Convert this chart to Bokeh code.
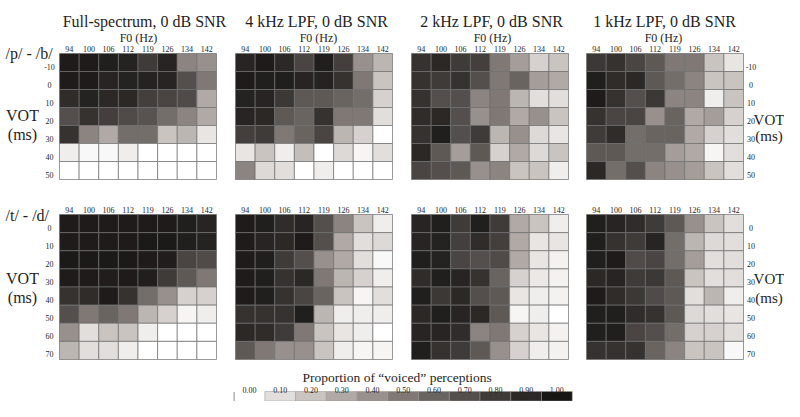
import numpy as np
from bokeh.plotting import figure
from bokeh.models import Range1d, ColumnDataSource, LinearColorMapper
from bokeh.embed import file_html
from bokeh.resources import INLINE
from bokeh.core.properties import value

# ---------------- data ----------------
F0 = ["94", "100", "106", "112", "119", "126", "134", "142"]
VOT_PB = ["-10", "0", "10", "20", "30", "40", "50"]
VOT_TD = ["0", "10", "20", "30", "40", "50", "60", "70"]
TITLES = ["Full-spectrum, 0 dB SNR", "4 kHz LPF, 0 dB SNR",
          "2 kHz LPF, 0 dB SNR", "1 kHz LPF, 0 dB SNR"]
ROW_LABELS = ["/p/ - /b/", "/t/ - /d/"]

# proportion of "voiced" responses, rows = VOT, cols = F0
pb_full = [
    [0.97, 0.97, 0.95, 0.93, 0.80, 0.92, 0.45, 0.40],
    [0.97, 0.97, 0.92, 0.93, 0.93, 0.92, 0.70, 0.50],
    [0.88, 0.93, 0.90, 0.90, 0.78, 0.75, 0.72, 0.30],
    [0.70, 0.85, 0.78, 0.72, 0.68, 0.55, 0.45, 0.30],
    [0.85, 0.45, 0.30, 0.55, 0.55, 0.20, 0.25, 0.08],
    [0.05, 0.02, 0.02, 0.05, 0.00, 0.00, 0.00, 0.00],
    [0.00, 0.00, 0.00, 0.00, 0.00, 0.00, 0.00, 0.00],
]
pb_4k = [
    [0.92, 0.97, 0.90, 0.75, 0.95, 0.78, 0.40, 0.25],
    [0.97, 0.95, 0.95, 0.92, 0.93, 0.85, 0.50, 0.20],
    [0.93, 0.92, 0.82, 0.65, 0.65, 0.60, 0.55, 0.15],
    [0.92, 0.90, 0.65, 0.60, 0.85, 0.50, 0.50, 0.10],
    [0.78, 0.80, 0.50, 0.60, 0.75, 0.25, 0.15, 0.00],
    [0.08, 0.20, 0.05, 0.22, 0.00, 0.12, 0.03, 0.10],
    [0.45, 0.12, 0.10, 0.00, 0.05, 0.00, 0.00, 0.00],
]
pb_2k = [
    [0.85, 0.90, 0.80, 0.78, 0.50, 0.35, 0.15, 0.20],
    [0.85, 0.80, 0.85, 0.70, 0.50, 0.60, 0.35, 0.30],
    [0.85, 0.70, 0.70, 0.45, 0.50, 0.25, 0.10, 0.10],
    [0.88, 0.90, 0.70, 0.40, 0.50, 0.30, 0.40, 0.20],
    [0.85, 0.95, 0.70, 0.80, 0.25, 0.40, 0.12, 0.08],
    [0.90, 0.65, 0.35, 0.65, 0.15, 0.30, 0.12, 0.20],
    [0.75, 0.70, 0.65, 0.40, 0.45, 0.20, 0.20, 0.05],
]
pb_1k = [
    [0.82, 0.85, 0.75, 0.65, 0.50, 0.50, 0.20, 0.08],
    [0.95, 0.88, 0.90, 0.65, 0.55, 0.45, 0.20, 0.20],
    [0.97, 0.85, 0.70, 0.82, 0.45, 0.45, 0.05, 0.20],
    [0.85, 0.75, 0.75, 0.40, 0.60, 0.30, 0.35, 0.15],
    [0.80, 0.88, 0.55, 0.60, 0.60, 0.30, 0.15, 0.10],
    [0.65, 0.65, 0.55, 0.55, 0.35, 0.30, 0.03, 0.10],
    [0.90, 0.55, 0.70, 0.45, 0.40, 0.35, 0.20, 0.10],
]
td_full = [
    [0.97, 0.97, 0.97, 0.97, 0.97, 0.97, 0.95, 0.92],
    [0.97, 0.97, 0.97, 0.97, 0.98, 0.98, 0.95, 0.93],
    [0.98, 0.98, 0.98, 0.98, 0.97, 0.96, 0.75, 0.72],
    [0.97, 0.97, 0.96, 0.97, 0.95, 0.80, 0.65, 0.50],
    [0.85, 0.88, 0.97, 0.85, 0.55, 0.40, 0.15, 0.15],
    [0.70, 0.50, 0.60, 0.50, 0.25, 0.15, 0.03, 0.05],
    [0.40, 0.10, 0.20, 0.20, 0.05, 0.00, 0.00, 0.00],
    [0.25, 0.10, 0.10, 0.05, 0.00, 0.00, 0.00, 0.00],
]
td_4k = [
    [0.97, 0.95, 0.88, 0.92, 0.70, 0.45, 0.20, 0.05],
    [0.97, 0.92, 0.90, 0.97, 0.70, 0.30, 0.10, 0.12],
    [0.97, 0.95, 0.80, 0.70, 0.40, 0.30, 0.10, 0.02],
    [0.97, 0.95, 0.85, 0.90, 0.50, 0.25, 0.15, 0.05],
    [0.97, 0.95, 0.85, 0.75, 0.60, 0.20, 0.03, 0.10],
    [0.85, 0.85, 0.85, 0.95, 0.25, 0.05, 0.05, 0.05],
    [0.90, 0.88, 0.80, 0.50, 0.20, 0.08, 0.05, 0.00],
    [0.65, 0.50, 0.40, 0.40, 0.20, 0.05, 0.03, 0.03],
]
td_2k = [
    [0.92, 0.95, 0.80, 0.95, 0.80, 0.30, 0.20, 0.05],
    [0.92, 0.93, 0.78, 0.88, 0.78, 0.30, 0.08, 0.08],
    [0.95, 0.93, 0.75, 0.70, 0.72, 0.30, 0.08, 0.04],
    [0.88, 0.95, 0.92, 0.85, 0.60, 0.15, 0.07, 0.04],
    [0.95, 0.82, 0.90, 0.70, 0.65, 0.08, 0.05, 0.04],
    [0.90, 0.95, 0.92, 0.90, 0.65, 0.03, 0.05, 0.00],
    [0.92, 0.92, 0.88, 0.45, 0.50, 0.15, 0.08, 0.04],
    [0.95, 0.85, 0.80, 0.65, 0.40, 0.15, 0.05, 0.04],
]
td_1k = [
    [0.95, 0.92, 0.88, 0.80, 0.65, 0.40, 0.20, 0.10],
    [0.95, 0.85, 0.80, 0.92, 0.55, 0.25, 0.12, 0.10],
    [0.95, 0.97, 0.72, 0.75, 0.55, 0.35, 0.10, 0.10],
    [0.90, 0.92, 0.80, 0.82, 0.65, 0.20, 0.10, 0.10],
    [0.97, 0.88, 0.82, 0.72, 0.65, 0.10, 0.25, 0.05],
    [0.95, 0.95, 0.88, 0.85, 0.65, 0.12, 0.10, 0.08],
    [0.95, 0.95, 0.75, 0.70, 0.55, 0.15, 0.15, 0.10],
    [0.85, 0.85, 0.85, 0.60, 0.45, 0.20, 0.20, 0.02],
]

LEVELS = [0.0, 0.1, 0.2, 0.3, 0.4, 0.5, 0.6, 0.7, 0.8, 0.9, 1.0]
LEVEL_LABELS = ["0.00", "0.10", "0.20", "0.30", "0.40", "0.50",
                "0.60", "0.70", "0.80", "0.90", "1.00"]
CB_TITLE = "Proportion of \u201cvoiced\u201d perceptions"

# ---------------- style / layout ----------------
W, H = 784, 401
FONT = value("Liberation Serif")
TXT = "#1e1e1e"
GRID_LINE = "#6f6f6f"

# warm grey palette (white -> near-black)
anchors_v = [0.0, 0.1, 0.3, 0.5, 0.7, 0.9, 1.0]
anchors_c = [(255, 255, 255), (226, 222, 219), (176, 169, 165), (127, 120, 116),
             (84, 79, 76), (43, 40, 38), (24, 22, 21)]
vv = np.linspace(0, 1, 201)
palette = []
for t in vv:
    rgb = [int(round(np.interp(t, anchors_v, [c[i] for c in anchors_c]))) for i in range(3)]
    palette.append("#%02x%02x%02x" % tuple(rgb))
mapper = LinearColorMapper(palette=palette, low=0.0, high=1.0)

PX0 = [59.0, 235.0, 411.0, 586.0]   # panel left edges
PW = 157.0                            # panel width
ROW_Y0 = [53.0, 214.0]                # panel top edges
ROW_H = [126.0, 145.0]                # panel heights
TITLE_CX = [144.0, 316.0, 491.0, 664.0]
F0_CX = [138.0, 318.0, 492.0, 663.0]

p = figure(width=W, height=H, x_range=Range1d(0, W), y_range=Range1d(H, 0),
           output_backend="svg", toolbar_location=None,
           x_axis_location=None, y_axis_location=None,
           min_border=0, outline_line_color=None, background_fill_color="white",
           border_fill_color="white")
p.xgrid.visible = False
p.ygrid.visible = False

panels = [[pb_full, pb_4k, pb_2k, pb_1k], [td_full, td_4k, td_2k, td_1k]]
vot_sets = [VOT_PB, VOT_TD]

cells = dict(l=[], r=[], t=[], b=[], v=[])
tick_x, tick_y, tick_t = [], [], []
ylab_x, ylab_y, ylab_t = [], [], []
for ri, row in enumerate(panels):
    vots = vot_sets[ri]
    nrow = len(vots)
    ch = ROW_H[ri] / nrow
    cw = PW / len(F0)
    for k, data in enumerate(row):
        x0 = PX0[k]
        y0 = ROW_Y0[ri]
        for r in range(nrow):
            for c in range(len(F0)):
                cells["l"].append(x0 + c * cw)
                cells["r"].append(x0 + (c + 1) * cw)
                cells["t"].append(y0 + r * ch)
                cells["b"].append(y0 + (r + 1) * ch)
                cells["v"].append(data[r][c])
        for c, f in enumerate(F0):
            tick_x.append(x0 + (c + 0.5) * cw)
            tick_y.append(y0 - 4.5)
            tick_t.append(f)
        if k in (0, 3):
            xl = x0 - 10 if k == 0 else x0 + PW + 7.5
            for r, vt in enumerate(vots):
                ylab_x.append(xl)
                ylab_y.append(y0 + (r + 0.5) * ch + 4.0)
                ylab_t.append(vt)

p.quad(left="l", right="r", top="t", bottom="b",
       fill_color={"field": "v", "transform": mapper},
       line_color=GRID_LINE, line_width=0.7, source=ColumnDataSource(cells))

# F0 tick labels (top of every panel)
p.text(x=tick_x, y=tick_y, text=tick_t, text_font=FONT, text_font_size=value("8px"),
       text_align="center", text_baseline="alphabetic", text_color=TXT)
# VOT tick labels
p.text(x=ylab_x, y=ylab_y, text=ylab_t, text_font=FONT, text_font_size=value("8px"),
       text_align="center", text_baseline="middle", text_color=TXT)

# panel titles and F0 axis labels
p.text(x=TITLE_CX, y=[20.5] * 4, text=TITLES, text_font=FONT, text_font_size=value("16px"),
       text_align="center", text_baseline="alphabetic", text_color=TXT)
p.text(x=F0_CX, y=[37.0] * 4, text=["F0 (Hz)"] * 4, text_font=FONT,
       text_font_size=value("12px"), text_align="center", text_baseline="alphabetic",
       text_color=TXT)

# big row labels
p.text(x=[5, 5], y=[53.0, 215.0], text=ROW_LABELS, text_font=FONT,
       text_font_size=value("16px"), text_align="left", text_baseline="alphabetic",
       text_color=TXT)
p.text(x=[22, 22], y=[115.0, 278.0], text=["VOT"] * 2,
       text_font=FONT, text_font_size=value("16px"), text_align="center",
       text_baseline="alphabetic", text_color=TXT)
p.text(x=[22, 22], y=[133.5, 297.0], text=["(ms)"] * 2,
       text_font=FONT, text_font_size=value("16px"), text_align="center",
       text_baseline="alphabetic", text_color=TXT)
p.text(x=[768.5, 768.5], y=[119.0, 278.0], text=["VOT"] * 2,
       text_font=FONT, text_font_size=value("15px"), text_align="center",
       text_baseline="alphabetic", text_color=TXT)
p.text(x=[768.5, 768.5], y=[135.0, 297.0], text=["(ms)"] * 2,
       text_font=FONT, text_font_size=value("15px"), text_align="center",
       text_baseline="alphabetic", text_color=TXT)

# colour legend
CB_X0, CB_W, CB_TOP, CB_BOT = 233.6, 30.74, 391.0, 400.5
cb = dict(l=[CB_X0 + i * CB_W for i in range(len(LEVELS))],
          r=[CB_X0 + (i + 1) * CB_W for i in range(len(LEVELS))],
          t=[CB_TOP] * len(LEVELS), b=[CB_BOT] * len(LEVELS), v=LEVELS,
          lc=[None] + ["#9a9592"] * (len(LEVELS) - 1))
p.quad(left="l", right="r", top="t", bottom="b",
       fill_color={"field": "v", "transform": mapper}, line_color="lc", line_width=0.5,
       source=ColumnDataSource(cb))
p.segment(x0=[CB_X0], y0=[CB_TOP + 0.5], x1=[CB_X0], y1=[CB_BOT], line_color="#8a8a8a",
          line_width=1)
p.text(x=[CB_X0 + (i + 0.5) * CB_W for i in range(len(LEVELS))], y=[389.0] * len(LEVELS),
       text=LEVEL_LABELS, text_font=FONT, text_font_size=value("8px"), text_align="center",
       text_baseline="alphabetic", text_color=TXT)
p.text(x=[396.7], y=[376.5], text=[CB_TITLE], text_font=FONT, text_font_size=value("13.5px"),
       text_align="center", text_baseline="alphabetic", text_color=TXT)

open("out.html", "w").write(file_html(p, INLINE))
